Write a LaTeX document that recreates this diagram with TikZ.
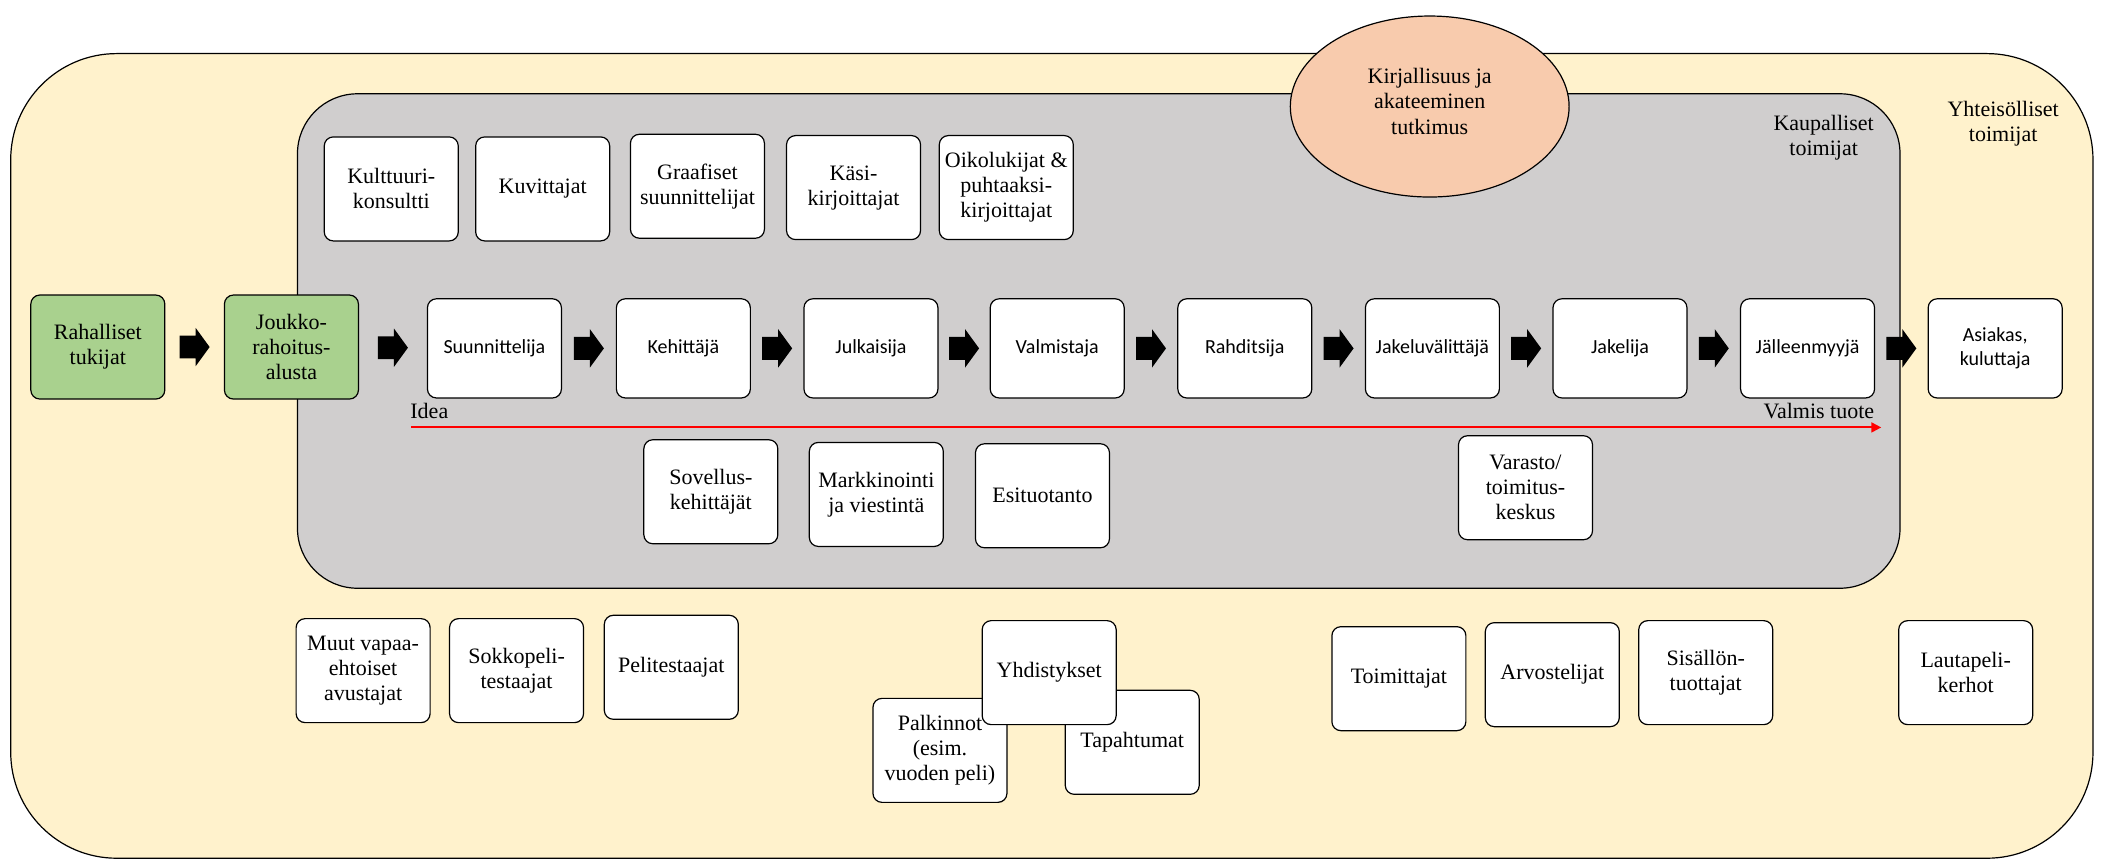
\documentclass[tikz,border=0pt]{standalone}
\usepackage{fontspec}
\setmainfont{Liberation Serif}
\newfontfamily\seriff{Liberation Serif}
\newfontfamily\sansf{Carlito}
\usetikzlibrary{shapes.geometric, arrows.meta}
\definecolor{outerc}{HTML}{FFF2CC}
\definecolor{grayc}{HTML}{D0CECE}
\definecolor{greenc}{HTML}{A9D18E}
\definecolor{peachc}{HTML}{F8CBAD}
\definecolor{redc}{HTML}{FF0000}
\newcommand\blockarrow[2]{%
  \path (#1.east) -- (#2.west) coordinate[midway] (m-#1);
  \fill[shift={(m-#1)}] (-7.5pt,-5.7pt) -- (0.5pt,-5.7pt) -- (0.5pt,-9.6pt) -- (7.5pt,0pt)
     -- (0.5pt,9.6pt) -- (0.5pt,5.7pt) -- (-7.5pt,5.7pt) -- cycle;}
\begin{document}
\begin{tikzpicture}[x=0.67pt,y=-0.67pt,
  box/.style={draw, fill=white, rounded corners=4.5pt, line width=0.6pt,
    minimum width=67pt, minimum height=52pt, align=center, inner sep=1pt,
    font=\seriff\fontsize{11}{12.5}\selectfont},
  flowbox/.style={box, minimum height=49.6pt, font=\sansf\fontsize{10}{12}\selectfont},
  fundbox/.style={box, fill=greenc},
  lbl/.style={align=center, inner sep=0pt, font=\seriff\fontsize{11}{12.5}\selectfont},
  region/.style={draw, line width=0.6pt}]
\useasboundingbox (0,0) rectangle (1568,642);
% regions
\draw[region, fill=outerc, rounded corners=53pt] (8,40) rectangle (1562,640.5);
\draw[region, fill=grayc, rounded corners=30pt] (222,70) rectangle (1418,439);
\node[ellipse, draw, line width=0.6pt, fill=peachc, minimum width=139.4pt, minimum height=90.5pt,
  inner sep=0pt, label={[lbl, font=\seriff\fontsize{11}{12.8}\selectfont, yshift=2.7pt]center:{Kirjallisuus ja\\akateeminen\\tutkimus}}]
  (lit) at (1067,79.5) {};
\node[lbl] (kaup) at (1361,103) {Kaupalliset\\toimijat};
\node[lbl] (yhte) at (1495,92) {Yhteisölliset\\toimijat};
% top row
\node[box] (kult) at (292,141) {Kulttuuri-\\konsultti};
\node[box] (kuvi) at (405,141) {Kuvittajat};
\node[box] (graa) at (520.5,139) {Graafiset\\suunnittelijat};
\node[box] (kasi) at (637,140) {Käsi-\\kirjoittajat};
\node[box] (oiko) at (751,140) {Oikolukijat \&\\puhtaaksi-\\kirjoittajat};
% main row
\node[fundbox] (rah) at (73,259) {Rahalliset\\tukijat};
\node[fundbox] (jou) at (217.5,259) {Joukko-\\rahoitus-\\alusta};
\node[flowbox] (suu) at (369,260) {Suunnittelija};
\node[flowbox] (kehi) at (510,260) {Kehittäjä};
\node[flowbox] (julk) at (650,260) {Julkaisija};
\node[flowbox] (valm) at (789,260) {Valmistaja};
\node[flowbox] (rahd) at (929,260) {Rahditsija};
\node[flowbox] (jakv) at (1069,260) {Jakeluvälittäjä};
\node[flowbox] (jake) at (1209,260) {Jakelija};
\node[flowbox] (jall) at (1349,260) {Jälleenmyyjä};
\node[flowbox] (asia) at (1489,260) {Asiakas,\\kuluttaja};
\foreach \a/\b in {rah/jou, jou/suu, suu/kehi, kehi/julk, julk/valm, valm/rahd, rahd/jakv, jakv/jake, jake/jall, jall/asia}
  {\blockarrow{\a}{\b}}
% idea line
\coordinate (ideaS) at (307,319);
\coordinate (valE) at (1404,319);
\draw[redc, line width=1pt, -{Triangle[length=5pt,width=5pt]}] (ideaS) -- (valE);
\node[lbl, anchor=base west] (idea) at (306,312) {Idea};
\node[lbl, anchor=base east] (valmis) at (1399,312) {Valmis tuote};
% lower row in gray
\node[box] (sove) at (530.5,367) {Sovellus-\\kehittäjät};
\node[box] (mark) at (654,369) {Markkinointi\\ja viestintä};
\node[box] (esit) at (778,370) {Esituotanto};
\node[box] (vara) at (1138.5,364) {Varasto/\\toimitus-\\keskus};
% bottom row
\node[box] (muut) at (271,500.5) {Muut vapaa-\\ehtoiset\\avustajat};
\node[box] (sokk) at (385.5,500.5) {Sokkopeli-\\testaajat};
\node[box] (peli) at (501,498) {Pelitestaajat};
\node[box] (palk) at (701.5,560) {Palkinnot\\(esim.\\vuoden peli)};
\node[box] (tapa) at (845,554) {Tapahtumat};
\node[box] (yhdi) at (783,502) {Yhdistykset};
\node[box] (toim) at (1044,506.5) {Toimittajat};
\node[box] (arvo) at (1158.5,503.5) {Arvostelijat};
\node[box] (sisa) at (1273,502) {Sisällön-\\tuottajat};
\node[box] (laut) at (1467,502) {Lautapeli-\\kerhot};
\end{tikzpicture}
\end{document}
